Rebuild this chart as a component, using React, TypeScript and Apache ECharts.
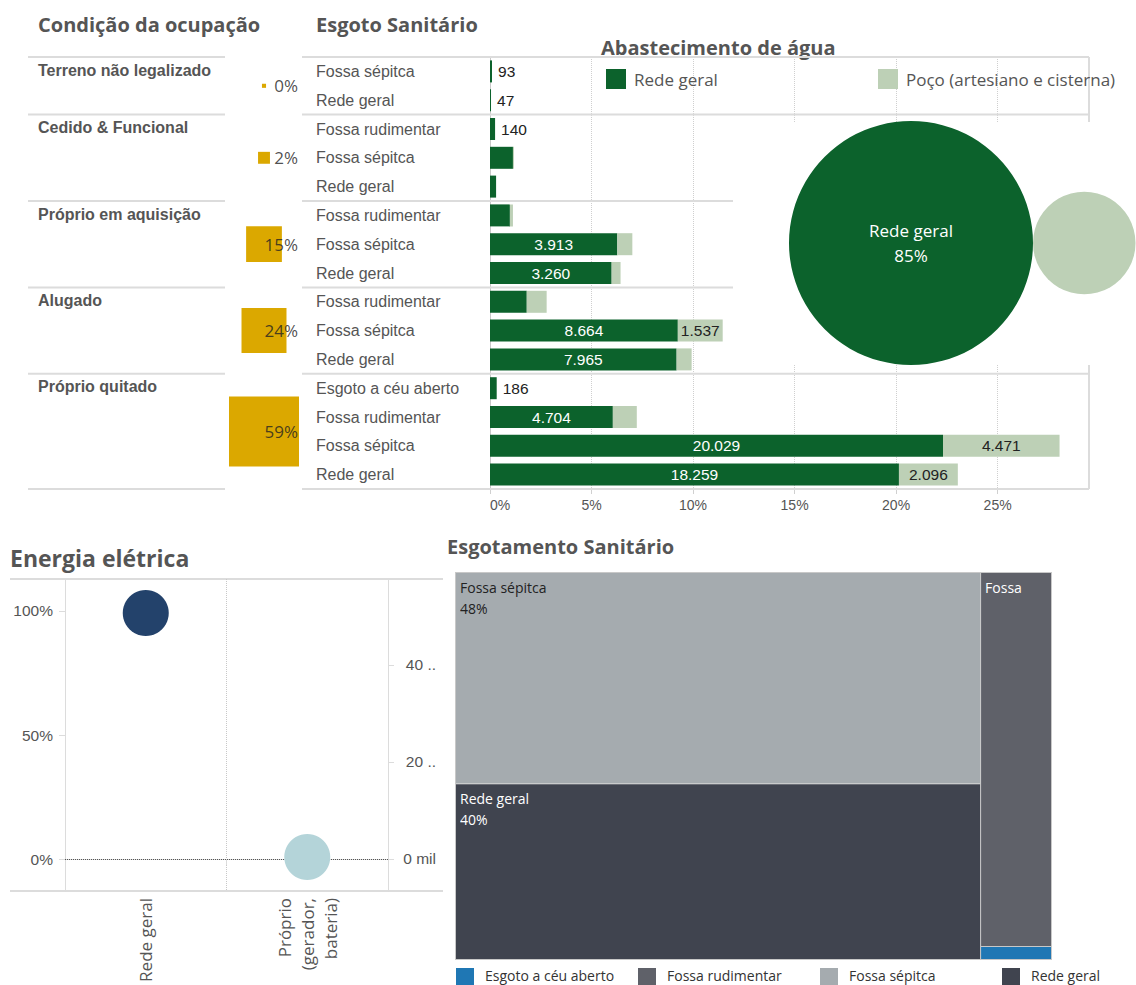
import React, { useEffect, useRef } from "react";
import * as echarts from "echarts";

// ---------- DATA ----------
const condicoes = [
  "Terreno não legalizado",
  "Cedido & Funcional",
  "Próprio em aquisição",
  "Alugado",
  "Próprio quitado",
];
const condicaoPct = [0.2, 1.7, 15.3, 24.2, 58.6];

const esgotoTipos = [
  "Fossa sépitca", "Rede geral",
  "Fossa rudimentar", "Fossa sépitca", "Rede geral",
  "Fossa rudimentar", "Fossa sépitca", "Rede geral",
  "Fossa rudimentar", "Fossa sépitca", "Rede geral",
  "Esgoto a céu aberto", "Fossa rudimentar", "Fossa sépitca", "Rede geral",
];
const esgotoCondicao = [0, 0, 1, 1, 1, 2, 2, 2, 3, 3, 3, 4, 4, 4, 4];
const redeGeralPct = [0.1, 0.05, 0.25, 1.13, 0.3, 0.98, 6.27, 5.99, 1.81, 9.25, 9.19, 0.33, 6.05, 22.31, 20.14];
const pocoPct = [0, 0, 0, 0.05, 0, 0.15, 0.74, 0.44, 0.98, 2.21, 0.74, 0, 1.18, 5.74, 2.9];
const redeGeralQtd = [93, 47, 140, null, null, null, 3913, 3260, null, 8664, 7965, 186, 4704, 20029, 18259];
const pocoQtd = [null, null, null, null, null, null, null, null, null, 1537, null, null, null, 4471, 2096];

const abastecimentoTipos = ["Rede geral", "Poço (artesiano e cisterna)"];
const abastecimentoPct = [85, 15];

const energiaTipos = ["Rede geral", "Próprio (gerador, bateria)"];
const energiaPct = [99.2, 0.8];
const energiaPctTicks = [0, 50, 100];
const energiaQtdTicks = [0, 20000, 40000];

const esgotamentoTipos = ["Esgoto a céu aberto", "Fossa rudimentar", "Fossa sépitca", "Rede geral"];
const esgotamentoPct = [0.4, 11.5, 48.1, 40.0];

// ---------- STYLE ----------
const ARIAL = '"Liberation Sans", Arial, sans-serif';
const OPEN = '"Open Sans", "Noto Sans", sans-serif';
const VERDE = "#0c622c";
const VERDE_CLARO = "#bdd0b6";
const OURO = "#dba800";
const ENERGIA_CORES = ["#23426b", "#b4d4d9"];
const ESGOTAMENTO_CORES = ["#1f77b4", "#5f6169", "#a5abaf", "#40444f"];
const ESGOTAMENTO_TEXTO = ["#fff", "#fff", "#222", "#fff"];
const LINE = "#dcdcdc";

const fmtQtd = (n: number) => String(n).replace(/\B(?=(\d{3})+(?!\d))/g, ".");

function buildOption() {
  const nRows = esgotoTipos.length;
  const groups = condicoes.map((_, g) => [
    esgotoCondicao.indexOf(g),
    esgotoCondicao.lastIndexOf(g) + 1,
    g,
  ]);
  const squareK = 70 / Math.sqrt(Math.max(...condicaoPct));
  const bubbleK = 122 / Math.sqrt(Math.max(...abastecimentoPct));
  const radii = abastecimentoPct.map((p) => bubbleK * Math.sqrt(p));
  const centers: number[] = [];
  let acc = 0;
  radii.forEach((r) => {
    centers.push(acc + r);
    acc += 2 * r;
  });
  const totalEsg = esgotamentoPct.reduce((a, b) => a + b, 0);

  const barLabel = (qtd: number | null, v: number, light: boolean) => {
    if (qtd == null) return { show: false };
    if (!light && v < 1)
      return { show: true, position: "right", distance: 6, color: "#222", formatter: fmtQtd(qtd) };
    return { show: true, position: "inside", color: light ? "#222" : "#fff", formatter: fmtQtd(qtd) };
  };

  const title = (text: string, x: number, y: number, size: number) => ({
    type: "text",
    x,
    y,
    style: {
      text,
      fill: "#555",
      fontSize: size,
      fontWeight: "bold",
      fontFamily: OPEN,
      verticalAlign: "middle",
    },
  });

  const legendGraphics: any[] = [];
  esgotamentoTipos.forEach((n, i) => {
    legendGraphics.push({
      type: "rect",
      shape: { x: 456 + 182 * i, y: 968, width: 18, height: 18 },
      style: { fill: ESGOTAMENTO_CORES[i] },
    });
    legendGraphics.push({
      type: "text",
      x: 485 + 182 * i,
      y: 975,
      style: { text: n, fill: "#333", fontSize: 14, fontFamily: OPEN, verticalAlign: "middle" },
    });
  });

  const gridBase = { containLabel: false, outerBoundsMode: "none" };

  return {
    animation: false,
    backgroundColor: "#fff",
    textStyle: { fontFamily: ARIAL },
    grid: [
      { ...gridBase, left: 490, top: 57, width: 599, height: 432 },
      { ...gridBase, left: 28, top: 57, width: 1061, height: 432 },
      { ...gridBase, left: 228, top: 57, width: 72, height: 432 },
      { ...gridBase, left: 789, top: 121, width: 347, height: 244 },
      { ...gridBase, left: 65, top: 579, width: 323, height: 312 },
    ],
    legend: [
      {
        data: [abastecimentoTipos[0]],
        left: 606,
        top: 69,
        padding: 0,
        icon: "rect",
        itemWidth: 20,
        itemHeight: 20,
        selectedMode: false,
        textStyle: { fontSize: 17, color: "#555", fontFamily: OPEN, padding: [0, 0, 0, 3] },
      },
      {
        data: [abastecimentoTipos[1]],
        left: 878,
        top: 69,
        padding: 0,
        icon: "rect",
        itemWidth: 20,
        itemHeight: 20,
        selectedMode: false,
        textStyle: { fontSize: 17, color: "#555", fontFamily: OPEN, padding: [0, 0, 0, 3] },
      },
    ],
    xAxis: [
      {
        gridIndex: 0,
        type: "value",
        min: 0,
        max: 29.5,
        interval: 5,
        axisLine: { show: false },
        axisTick: { show: true, length: 5, lineStyle: { color: "#d0d0d0" } },
        splitLine: { show: true, lineStyle: { type: "dotted", color: "#cfcfcf" } },
        axisLabel: {
          formatter: "{value}%",
          showMaxLabel: false,
          alignMinLabel: "left",
          margin: 9,
          color: "#555",
          fontSize: 14,
          fontFamily: ARIAL,
        },
      },
      { gridIndex: 1, type: "value", min: 0, max: 1061, show: false },
      { gridIndex: 2, type: "value", min: 0, max: 1, show: false },
      { gridIndex: 3, type: "value", min: 0, max: 347, show: false },
      {
        gridIndex: 4,
        type: "category",
        data: energiaTipos,
        axisLine: { show: true, lineStyle: { color: LINE, width: 1 } },
        axisTick: { show: true, length: 6, lineStyle: { color: LINE } },
        splitLine: { show: true, lineStyle: { type: "dotted", color: "#c8c8c8" } },
        axisLabel: {
          rotate: 90,
          margin: 7,
          color: "#555",
          fontSize: 17,
          lineHeight: 23,
          fontFamily: OPEN,
          formatter: (v: string) => (v.length > 12 ? v.split(" ").join("\n") : v),
        },
      },
    ],
    yAxis: [
      {
        gridIndex: 0,
        type: "category",
        inverse: true,
        data: esgotoTipos.map((_, i) => String(i)),
        axisLine: { show: true, lineStyle: { color: "#c8c8c8" } },
        axisTick: { show: false },
        splitLine: { show: false },
        axisLabel: {
          formatter: (v: string) => esgotoTipos[Number(v)],
          align: "left",
          margin: 174,
          color: "#555",
          fontSize: 16,
          fontFamily: ARIAL,
        },
      },
      { gridIndex: 1, type: "value", min: 0, max: nRows, inverse: true, show: false },
      { gridIndex: 2, type: "value", min: 0, max: nRows, inverse: true, show: false },
      { gridIndex: 3, type: "value", min: -122, max: 122, show: false },
      {
        gridIndex: 4,
        type: "value",
        position: "left",
        min: -12.9,
        max: 112.9,
        axisLine: { show: true, lineStyle: { color: LINE } },
        axisTick: { show: true, length: 6, customValues: energiaPctTicks, lineStyle: { color: LINE } },
        splitLine: { show: false },
        axisLabel: {
          customValues: energiaPctTicks,
          formatter: (v: number) => `${v}%`,
          margin: 12,
          color: "#555",
          fontSize: 15.5,
          fontFamily: ARIAL,
        },
      },
      {
        gridIndex: 4,
        type: "value",
        position: "right",
        min: -6600,
        max: 57700,
        axisLine: { show: true, lineStyle: { color: LINE } },
        axisTick: { show: true, length: 6, customValues: energiaQtdTicks, lineStyle: { color: LINE } },
        splitLine: { show: false },
        axisLabel: {
          customValues: energiaQtdTicks,
          formatter: (v: number) => (v === 0 ? "0 mil" : `${v / 1000} ..`),
          align: "right",
          margin: 48,
          color: "#555",
          fontSize: 15.5,
          fontFamily: ARIAL,
        },
      },
    ],
    series: [
      {
        type: "bar",
        name: abastecimentoTipos[0],
        xAxisIndex: 0,
        yAxisIndex: 0,
        stack: "agua",
        barWidth: 22,
        itemStyle: { color: VERDE },
        label: { fontSize: 15.5, fontFamily: ARIAL },
        data: redeGeralPct.map((v, i) => ({ value: v, label: barLabel(redeGeralQtd[i], v, false) })),
      },
      {
        type: "bar",
        name: abastecimentoTipos[1],
        xAxisIndex: 0,
        yAxisIndex: 0,
        stack: "agua",
        barWidth: 22,
        itemStyle: { color: VERDE_CLARO },
        label: { fontSize: 15.5, fontFamily: ARIAL },
        data: pocoPct.map((v, i) => ({ value: v, label: barLabel(pocoQtd[i], v, true) })),
      },
      {
        type: "custom",
        xAxisIndex: 1,
        yAxisIndex: 1,
        z: 1,
        silent: true,
        data: groups,
        renderItem: (params: any, api: any) => {
          const cs = params.coordSys;
          const y0 = api.coord([0, api.value(0)])[1];
          const y1 = api.coord([0, api.value(1)])[1];
          const g = api.value(2);
          const seg = (y: number) => [
            { type: "line", shape: { x1: cs.x, y1: y, x2: cs.x + 197, y2: y }, style: { stroke: LINE, lineWidth: 2 } },
            { type: "line", shape: { x1: cs.x + 274, y1: y, x2: cs.x + cs.width, y2: y }, style: { stroke: LINE, lineWidth: 2 } },
          ];
          const children: any[] = [...seg(y0)];
          if (g === condicoes.length - 1) children.push(...seg(y1));
          children.push({
            type: "text",
            style: {
              text: condicoes[g],
              x: cs.x + 10,
              y: y0 + 5,
              fill: "#555",
              fontSize: 16,
              fontWeight: "bold",
              fontFamily: ARIAL,
              align: "left",
              verticalAlign: "top",
            },
          });
          return { type: "group", children };
        },
      },
      {
        type: "scatter",
        xAxisIndex: 2,
        yAxisIndex: 2,
        symbol: "rect",
        itemStyle: { color: OURO, opacity: 1 },
        data: groups.map(([s, e], g) => ({
          value: [0.5, (s + e) / 2],
          symbolSize: squareK * Math.sqrt(condicaoPct[g]),
        })),
      },
      {
        type: "scatter",
        xAxisIndex: 2,
        yAxisIndex: 2,
        symbolSize: 0,
        z: 4,
        label: {
          show: true,
          position: "left",
          distance: 2,
          color: "#222",
          fontSize: 17,
          fontFamily: OPEN,
          formatter: (p: any) => `${Math.round(condicaoPct[p.dataIndex])}%`,
        },
        data: groups.map(([s, e]) => [1, (s + e) / 2]),
      },
      {
        type: "scatter",
        name: "Abastecimento de água",
        xAxisIndex: 3,
        yAxisIndex: 3,
        z: 10,
        data: abastecimentoPct.map((p, i) => ({
          value: [centers[i], 0],
          symbolSize: radii[i] * 2,
          itemStyle: { color: i === 0 ? VERDE : VERDE_CLARO, opacity: 1 },
          label: {
            show: i === 0,
            position: "inside",
            color: "#fff",
            fontSize: 17,
            lineHeight: 25,
            fontFamily: OPEN,
            formatter: `${abastecimentoTipos[i]}\n${p}%`,
          },
        })),
      },
      {
        type: "scatter",
        name: "Energia elétrica",
        xAxisIndex: 4,
        yAxisIndex: 4,
        z: 6,
        symbolSize: 46,
        data: energiaPct.map((p, i) => ({ value: [i, p], itemStyle: { color: ENERGIA_CORES[i], opacity: 1 } })),
        markLine: {
          silent: true,
          z: 3,
          symbol: "none",
          label: { show: false },
          lineStyle: { type: "dotted", color: "#555", width: 1 },
          data: [{ yAxis: 0 }],
        },
      },
      {
        type: "treemap",
        name: "Esgotamento Sanitário",
        left: 455,
        top: 572,
        width: 597,
        height: 388,
        roam: false,
        nodeClick: false,
        breadcrumb: { show: false },
        squareRatio: 3,
        sort: "desc",
        visibleMin: 0,
        upperLabel: { show: false },
        levels: [
          { itemStyle: { borderColor: "#c8c8c8", borderWidth: 1, gapWidth: 1 } },
          { itemStyle: { borderWidth: 0 } },
        ],
        label: {
          show: true,
          position: [4, 4],
          padding: 0,
          fontSize: 14,
          lineHeight: 21,
          fontFamily: OPEN,
          formatter: (p: any) => `${p.name}\n${Math.round((p.value / totalEsg) * 100)}%`,
        },
        data: esgotamentoTipos.map((n, i) => ({
          name: n,
          value: esgotamentoPct[i],
          itemStyle: { color: ESGOTAMENTO_CORES[i] },
          label:
            esgotamentoPct[i] < 1
              ? { show: false }
              : esgotamentoPct[i] < 20
              ? { color: ESGOTAMENTO_TEXTO[i], formatter: n.split(" ")[0] }
              : { color: ESGOTAMENTO_TEXTO[i] },
        })),
      },
    ],
    graphic: [
      title("Condição da ocupação", 38, 24, 20),
      title("Esgoto Sanitário", 316, 24, 20),
      title("Abastecimento de água", 601, 47, 20),
      title("Energia elétrica", 10, 558, 23),
      title("Esgotamento Sanitário", 447, 546, 20),
      { type: "line", z: 1, shape: { x1: 1089, y1: 57, x2: 1089, y2: 489 }, style: { stroke: LINE, lineWidth: 2 } },
      { type: "rect", z: 5, shape: { x: 733, y: 122, width: 403, height: 243 }, style: { fill: "#fff" } },
      { type: "line", shape: { x1: 10, y1: 579, x2: 443, y2: 579 }, style: { stroke: LINE, lineWidth: 2 } },
      { type: "line", shape: { x1: 10, y1: 891, x2: 443, y2: 891 }, style: { stroke: LINE, lineWidth: 2 } },
      ...legendGraphics,
    ],
  };
}

export default function App() {
  const ref = useRef<HTMLDivElement>(null);
  useEffect(() => {
    if (!ref.current) return;
    const chart = echarts.init(ref.current, undefined, { renderer: "svg" });
    chart.setOption(buildOption() as any);
    return () => chart.dispose();
  }, []);
  return (
    <div
      ref={ref}
      style={{ position: "fixed", left: 0, top: 0, width: 1136, height: 985, background: "#fff" }}
    />
  );
}
